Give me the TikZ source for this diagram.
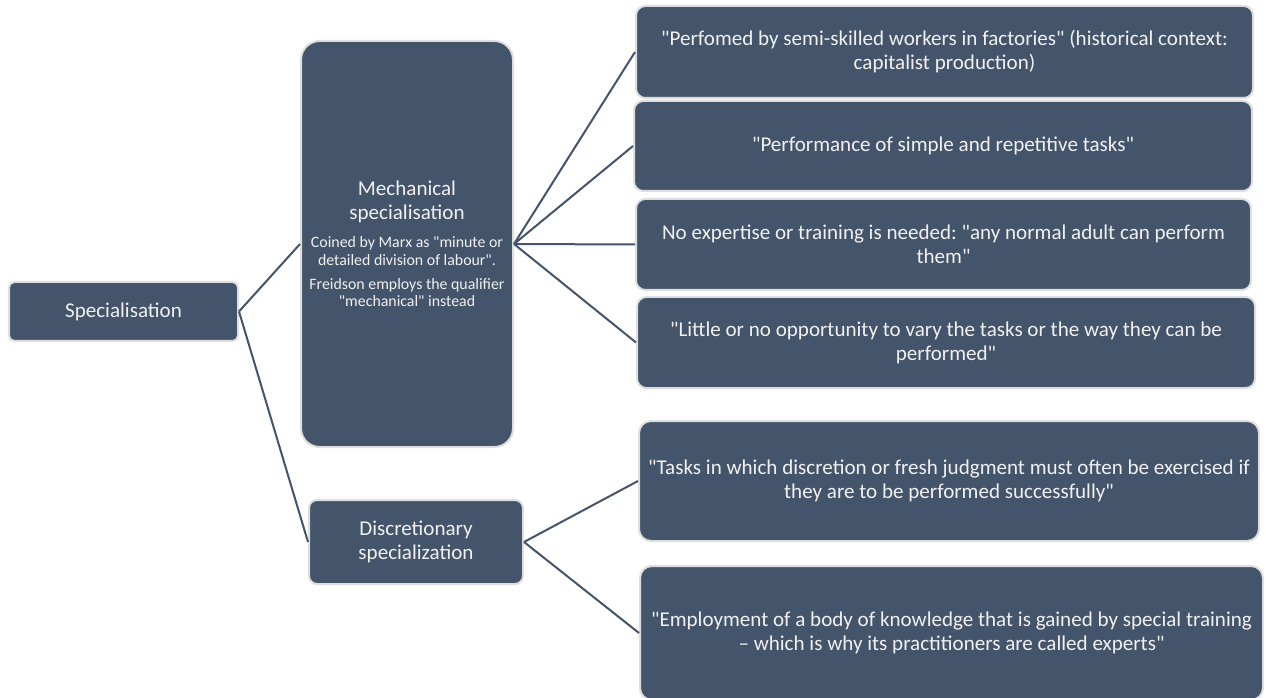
\documentclass[tikz,border=0pt]{standalone}
\usepackage{fontspec}
\setmainfont{Carlito}[Ligatures=TeXOff]
\usepackage{xcolor}
\usepackage{tikz}
\definecolor{slate}{HTML}{44546A}
\definecolor{boxedge}{HTML}{DEDEDE}
\definecolor{boxtext}{HTML}{F0F0F0}
\frenchspacing

\tikzset{
  box/.style={fill=slate, draw=boxedge, line width=1.5pt, rounded corners=#1,
    text=boxtext, align=center, inner sep=0pt,
    font=\fontsize{15.8}{18}\selectfont},
  box/.default=7pt,
  link/.style={draw=slate, line width=1.5pt},
}
\newcommand{\notesize}{\fontsize{11.9}{13.1}\selectfont}

\begin{document}
\begin{tikzpicture}[x=0.75pt, y=-0.75pt]
  \path[fill=white, use as bounding box] (0,0) rectangle (1266,698);

  \node[box=4pt, minimum width=171.75pt, minimum height=44.25pt]
    (spec) at (123.5,311.5) {Specialisation};

  \node[box=14pt, align=flush center, minimum width=159pt, minimum height=304.5pt,
        text width=158pt]
    (mech) at (407,244) {%
    Mechanical\\ specialisation\par
    \vspace{7.8pt}
    {\notesize Coined by Marx as "minute or\\ detailed division of labour".\par}
    \vspace{4.9pt}
    {\notesize Freidson employs the qualifier\\ "mechanical" instead\par}};

  \node[box=6pt, minimum width=160.5pt, minimum height=63pt]
    (disc) at (416,542) {Discretionary\\ specialization};

  \node[box, minimum width=462.75pt, minimum height=69pt]
    (perf) at (944.5,52)
    {"Perfomed by semi-skilled workers in factories" (historical context:\\ capitalist production)};
  \node[box, minimum width=463.5pt, minimum height=67.5pt]
    (simple) at (943,146)
    {"Performance of simple and repetitive tasks"};
  \node[box, minimum width=461.25pt, minimum height=68.25pt]
    (noexp) at (943.5,244.5)
    {No expertise or training is needed: "any normal adult can perform\\ them"};
  \node[box, minimum width=463.5pt, minimum height=68.25pt]
    (vary) at (946,342.5)
    {"Little or no opportunity to vary the tasks or the way they can be\\ performed"};

  \node[box=9pt, minimum width=465pt, minimum height=90pt]
    (judg) at (949,481)
    {"Tasks in which discretion or fresh judgment must often be exercised if\\ they are to be performed successfully"};
  \node[box=9pt, minimum width=467.25pt, minimum height=100.5pt]
    (train) at (951.5,633)
    {"Employment of a body of knowledge that is gained by special training\\ – which is why its practitioners are called experts"};

  \draw[link] (spec.east) -- (mech.west);
  \draw[link] (spec.east) -- (disc.west);
  \foreach \leaf in {perf, simple, noexp, vary}
    \draw[link] (mech.east) -- (\leaf.west);
  \draw[link] (disc.east) -- (judg.west);
  \draw[link] (disc.east) -- (train.west);
\end{tikzpicture}
\end{document}
